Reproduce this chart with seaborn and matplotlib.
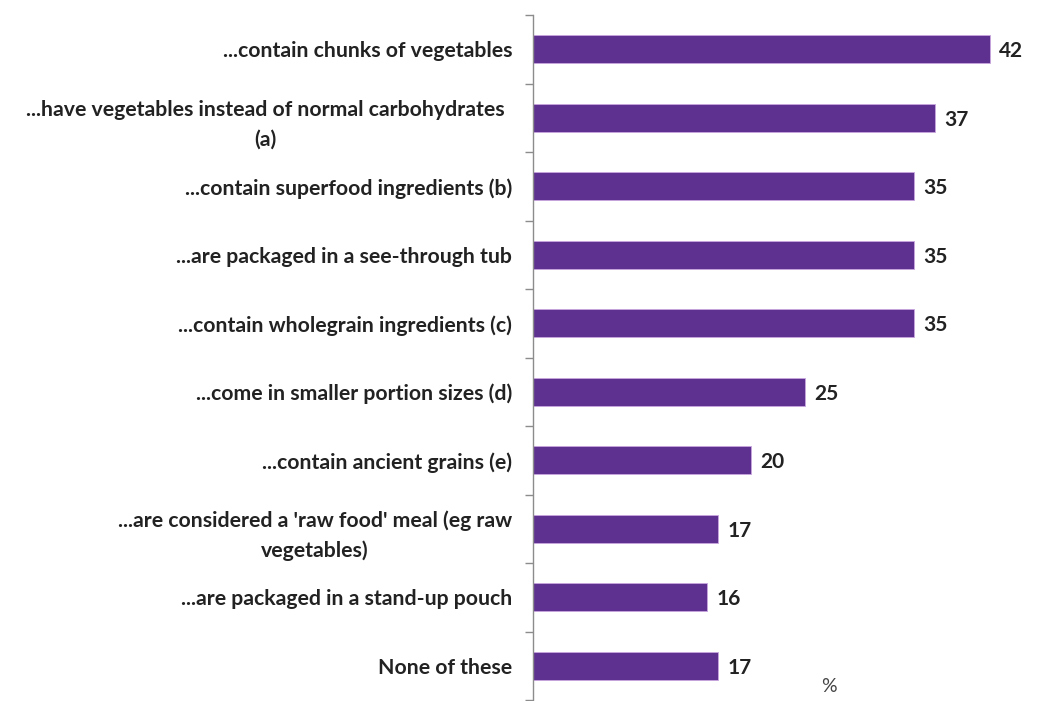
import matplotlib
matplotlib.use("Agg")
import matplotlib.pyplot as plt
import matplotlib.transforms as mtransforms
from matplotlib.ticker import FixedLocator
import seaborn as sns
import pandas as pd

categories = [
    "...contain chunks of vegetables",
    "...have vegetables instead of normal carbohydrates\n(a)",
    "...contain superfood ingredients (b)",
    "...are packaged in a see-through tub",
    "...contain wholegrain ingredients (c)",
    "...come in smaller portion sizes (d)",
    "...contain ancient grains (e)",
    "...are considered a 'raw food' meal (eg raw\nvegetables)",
    "...are packaged in a stand-up pouch",
    "None of these",
]
values = [42, 37, 35, 35, 35, 25, 20, 17, 16, 17]
unit_label = "%"

sns.set_theme(style="white")
plt.rcParams["font.family"] = ["Lato", "DejaVu Sans"]

df = pd.DataFrame({"category": categories, "value": values})

fig = plt.figure(figsize=(10.64, 7.01), dpi=100)
ax = fig.add_axes([0.501, 0.0014, 0.4906, 0.9772])

bar_color = "#5E3190"
sns.barplot(data=df, y="category", x="value", orient="h", color=bar_color,
            saturation=1, width=0.41, edgecolor="#c9a6e0", linewidth=0.6, ax=ax)

ax.set_xlim(0, 48)
ax.set_ylim(len(categories) - 0.5, -0.5)
ax.set_xlabel("")
ax.set_ylabel("")
ax.set_xticks([])

for side in ["top", "right", "bottom"]:
    ax.spines[side].set_visible(False)
ax.spines["left"].set_color("#8c8c8c")
ax.spines["left"].set_linewidth(1.0)

# category labels without tick marks; small ticks between categories
ax.tick_params(axis="y", which="major", length=0, pad=15)
ax.yaxis.set_minor_locator(FixedLocator([i + 0.5 for i in range(-1, len(categories))]))
ax.tick_params(axis="y", which="minor", left=True, length=6, width=1.0, color="#8c8c8c")
for i, lbl in enumerate(ax.get_yticklabels()):
    lbl.set_fontsize(15.3)
    lbl.set_fontweight("bold")
    lbl.set_color("#222222")
    lbl.set_multialignment("center")
    lbl.set_linespacing(1.6)
    if i == 1:
        lbl.set_transform(lbl.get_transform() +
                          mtransforms.ScaledTranslation(-0.08, 0, fig.dpi_scale_trans))

for i, v in enumerate(values):
    ax.text(v + 0.85, i + 0.03, f"{v}", va="center", ha="left", fontsize=15,
            fontweight="bold", color="#222222")

ax.text(27.2, 9.3, unit_label, ha="center", va="center", fontsize=14, color="#444444")

fig.savefig("out.png", dpi=100)
